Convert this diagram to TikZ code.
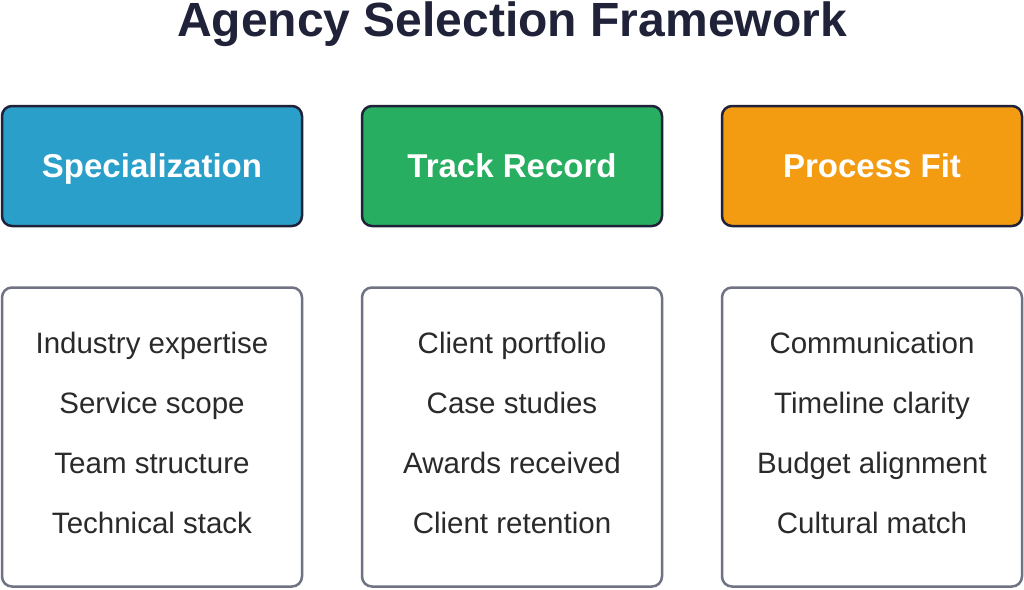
\documentclass[tikz,border=0pt]{standalone}
\usepackage{fontspec}
\setmainfont{Liberation Sans}
\definecolor{ink}{HTML}{1F2238}
\definecolor{cblue}{HTML}{2A9FC9}
\definecolor{cgreen}{HTML}{27AE60}
\definecolor{corange}{HTML}{F39C12}
\definecolor{gline}{HTML}{6E7283}
\definecolor{btext}{HTML}{2A2A2A}
\begin{document}
\begin{tikzpicture}[x=1pt,y=-1pt,
  head/.style={draw=ink,line width=2.5pt,rounded corners=10pt,minimum width=300pt,minimum height=120pt},
  htext/.style={anchor=base,text=white,font=\fontsize{33}{38}\selectfont\bfseries},
  body/.style={draw=gline,line width=2.5pt,rounded corners=10pt,minimum width=300pt,minimum height=299pt,fill=white},
  item/.style={anchor=base,text=btext,font=\fontsize{29.5}{34}\selectfont}]
\useasboundingbox (0,0) rectangle (1024,589);
\node[anchor=base,text=ink,font=\fontsize{48}{56}\selectfont\bfseries] (title) at (512,36) {Agency Selection Framework};
\foreach \n/\x/\c/\t in {a/152/cblue/Specialization,b/512/cgreen/Track Record,c/872/corange/Process Fit}{
  \node[head,fill=\c] (h\n) at (\x,166) {};
  \node[htext] (t\n) at (\x,177) {\t};
  \node[body] (p\n) at (\x,437) {};
}
\foreach \n/\x/\i/\j/\k/\l in {a/152/Industry expertise/Service scope/Team structure/Technical stack,
  b/512/Client portfolio/Case studies/Awards received/Client retention,
  c/872/Communication/Timeline clarity/Budget alignment/Cultural match}{
  \node[item] (\n1) at (\x,353) {\i};
  \node[item] (\n2) at (\x,413) {\j};
  \node[item] (\n3) at (\x,473) {\k};
  \node[item] (\n4) at (\x,533) {\l};
}
\end{tikzpicture}
\end{document}
